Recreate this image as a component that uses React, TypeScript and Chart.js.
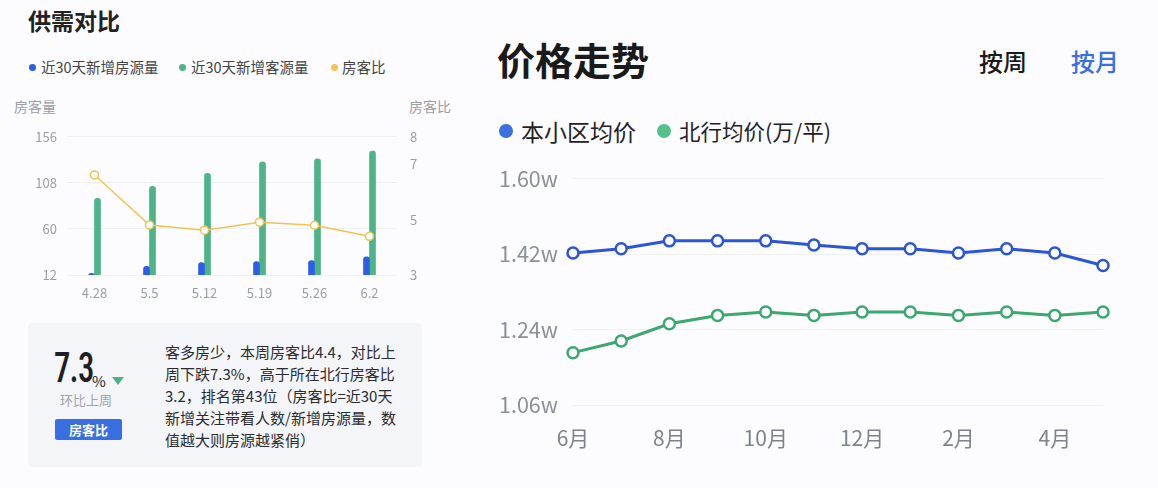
import React, { useEffect, useRef } from "react";
import { Chart, registerables } from "chart.js";

Chart.register(...registerables);

const weekLabels = ["4.28", "5.5", "5.12", "5.19", "5.26", "6.2"];
const newListings = [13.8, 21, 25, 26, 27, 31];
const newBuyers = [92, 104.5, 118, 130, 133, 141];
const ratio = [6.62, 4.81, 4.62, 4.91, 4.8, 4.4];
const leftTicks = [12, 60, 108, 156];
const rightTicks = [3, 5, 7, 8];

const monthLabels = ["6月", "7月", "8月", "9月", "10月", "11月", "12月", "1月", "2月", "3月", "4月", "5月"];
const communityPrice = [1.423, 1.433, 1.452, 1.452, 1.452, 1.442, 1.433, 1.433, 1.423, 1.433, 1.423, 1.393];
const districtPrice = [1.185, 1.213, 1.254, 1.274, 1.282, 1.274, 1.282, 1.282, 1.274, 1.282, 1.274, 1.282];
const priceTicks = [1.06, 1.24, 1.42, 1.6];

const FONT = '"Noto Sans CJK SC", "Noto Sans", sans-serif';
const BLUE = "#2f5ee6";
const GREEN = "#4db487";
const YELLOW = "#f2c350";
const LBLUE = "#2b55d5";
const LGREEN = "#3ca870";

function SupplyChart() {
  const ref = useRef<HTMLCanvasElement | null>(null);
  useEffect(() => {
    if (!ref.current) return;
    const chart = new Chart(ref.current, {
      type: "bar",
      data: {
        labels: weekLabels,
        datasets: [
          {
            type: "line",
            label: "房客比",
            data: ratio,
            yAxisID: "y1",
            borderColor: YELLOW,
            borderWidth: 1.5,
            pointRadius: 4,
            pointBackgroundColor: "#ffffff",
            pointBorderColor: YELLOW,
            pointBorderWidth: 1.5,
            tension: 0,
            order: 0,
          } as any,
          {
            label: "近30天新增房源量",
            data: newListings,
            yAxisID: "y",
            backgroundColor: BLUE,
            barThickness: 6,
            borderRadius: 3,
            borderSkipped: false,
            categoryPercentage: 0.473,
            order: 1,
          },
          {
            label: "近30天新增客源量",
            data: newBuyers,
            yAxisID: "y",
            backgroundColor: GREEN,
            barThickness: 6,
            borderRadius: 3,
            borderSkipped: false,
            categoryPercentage: 0.473,
            order: 1,
          },
        ],
      },
      options: {
        animation: false,
        responsive: false,
        maintainAspectRatio: false,
        layout: { padding: { top: 12, left: 0, right: 0, bottom: 0 } },
        plugins: { legend: { display: false }, tooltip: { enabled: false } },
        scales: {
          x: {
            grid: { display: false, drawTicks: false },
            border: { display: false },
            ticks: { color: "#9a9ea6", font: { family: FONT, size: 13 }, padding: 10 },
            afterFit: (s: any) => { s.height = 35; },
          },
          y: {
            position: "left",
            min: 12,
            max: 156,
            afterBuildTicks: (s: any) => { s.ticks = leftTicks.map((v) => ({ value: v })); },
            grid: { color: "#eef0f3", drawTicks: false },
            border: { display: false },
            ticks: { color: "#9a9ea6", font: { family: FONT, size: 13 }, padding: 10 },
            afterFit: (s: any) => { s.width = 57; },
          },
          y1: {
            position: "right",
            min: 3,
            max: 8,
            afterBuildTicks: (s: any) => { s.ticks = rightTicks.map((v) => ({ value: v })); },
            grid: { display: false, drawTicks: false },
            border: { display: false },
            ticks: { color: "#9a9ea6", font: { family: FONT, size: 13 }, padding: 13 },
            afterFit: (s: any) => { s.width = 33; },
          },
        },
      },
    });
    return () => chart.destroy();
  }, []);
  return <canvas ref={ref} width={420} height={194} style={{ position: "absolute", left: 10, top: 116, width: 420, height: 194 }} />;
}

function PriceChart() {
  const ref = useRef<HTMLCanvasElement | null>(null);
  useEffect(() => {
    if (!ref.current) return;
    const mk = (label: string, data: number[], color: string) => ({
      label,
      data,
      borderColor: color,
      borderWidth: 3,
      pointRadius: 5.5,
      pointBackgroundColor: "#ffffff",
      pointBorderColor: color,
      pointBorderWidth: 2.5,
      tension: 0,
    });
    const chart = new Chart(ref.current, {
      type: "line",
      data: {
        labels: monthLabels,
        datasets: [mk("本小区均价", communityPrice, LBLUE), mk("北行均价(万/平)", districtPrice, LGREEN)],
      },
      options: {
        animation: false,
        responsive: false,
        maintainAspectRatio: false,
        layout: { padding: { top: 9, right: 47, left: 0, bottom: 0 } },
        plugins: { legend: { display: false }, tooltip: { enabled: false } },
        scales: {
          x: {
            offset: false,
            grid: { display: false, drawTicks: false },
            border: { display: false },
            ticks: {
              autoSkip: false,
              maxRotation: 0,
              color: "#7d828c",
              font: { family: FONT, size: 21 },
              padding: 20,
              callback: (_v: any, i: number) => (i % 2 === 0 ? monthLabels[i] : ""),
            },
            afterFit: (s: any) => { s.height = 55; },
          },
          y: {
            min: 1.06,
            max: 1.6,
            afterBuildTicks: (s: any) => { s.ticks = priceTicks.map((v) => ({ value: v })); },
            grid: { color: "#f0f1f4", drawTicks: false },
            border: { display: false },
            ticks: {
              color: "#8a8f99",
              font: { family: FONT, size: 21.5 },
              padding: 15,
              callback: (v: any) => Number(v).toFixed(2) + "w",
            },
            afterFit: (s: any) => { s.width = 83; },
          },
        },
      },
    });
    return () => chart.destroy();
  }, []);
  return <canvas ref={ref} width={660} height={309} style={{ position: "absolute", left: 490, top: 151, width: 660, height: 309 }} />;
}

const abs = (o: React.CSSProperties): React.CSSProperties => ({ position: "absolute", whiteSpace: "nowrap", ...o });

function Dot({ x, y, d, color }: { x: number; y: number; d: number; color: string }) {
  return <div style={abs({ left: x - d / 2, top: y - d / 2, width: d, height: d, borderRadius: "50%", background: color })} />;
}

const paragraph = [
  "客多房少，本周房客比4.4，对比上",
  "周下跌7.3%，高于所在北行房客比",
  "3.2，排名第43位（房客比=近30天",
  "新增关注带看人数/新增房源量，数",
  "值越大则房源越紧俏）",
];

export default function App() {
  return (
    <div style={{ position: "fixed", left: 0, top: 0, width: 1158, height: 488, background: "#fcfcfe", fontFamily: FONT, overflow: "hidden" }}>
      <div style={abs({ left: 28, top: 4, fontSize: 23, fontWeight: 700, color: "#222", lineHeight: "32px" })}>供需对比</div>

      <Dot x={32} y={67} d={7} color={BLUE} />
      <div style={abs({ left: 41, top: 57, fontSize: 14.5, color: "#444", lineHeight: "20px" })}>近30天新增房源量</div>
      <Dot x={182} y={67} d={7} color={GREEN} />
      <div style={abs({ left: 191, top: 57, fontSize: 14.5, color: "#444", lineHeight: "20px" })}>近30天新增客源量</div>
      <Dot x={334} y={67} d={7} color={YELLOW} />
      <div style={abs({ left: 342, top: 57, fontSize: 14.5, color: "#444", lineHeight: "20px" })}>房客比</div>

      <div style={abs({ left: 14, top: 96, fontSize: 14, color: "#9a9ea6", lineHeight: "20px" })}>房客量</div>
      <div style={abs({ left: 409, top: 96, fontSize: 14, color: "#9a9ea6", lineHeight: "20px" })}>房客比</div>

      <SupplyChart />

      <div style={abs({ left: 28, top: 323, width: 394, height: 144, background: "#f4f5f8", borderRadius: 4 })} />
      <div style={abs({ left: 54, top: 342, fontSize: 42, fontWeight: 500, color: "#1d1f24", lineHeight: "52px", letterSpacing: -1, fontFamily: '"Roboto Condensed", "Liberation Sans Narrow", Roboto, sans-serif', transform: "scaleX(0.78)", transformOrigin: "left center" })}>7.3</div>
      <div style={abs({ left: 92, top: 372, fontSize: 15, color: "#1d1f24", lineHeight: "18px" })}>%</div>
      <div style={abs({ left: 112, top: 377, width: 0, height: 0, borderLeft: "6px solid transparent", borderRight: "6px solid transparent", borderTop: "8px solid " + GREEN })} />
      <div style={abs({ left: 60, top: 391, fontSize: 13, color: "#a0a4ab", lineHeight: "18px" })}>环比上周</div>
      <div style={abs({ left: 55, top: 419, width: 67, height: 21, background: "#3a6fe2", borderRadius: 2, color: "#fff", fontSize: 13, fontWeight: 700, lineHeight: "21px", textAlign: "center" })}>房客比</div>
      <div style={abs({ left: 165, top: 341, fontSize: 15, color: "#2a2c30", lineHeight: "22px" })}>
        {paragraph.map((l, i) => (
          <div key={i}>{l}</div>
        ))}
      </div>

      <div style={abs({ left: 497, top: 34, fontSize: 38, fontWeight: 700, color: "#1a1a1a", lineHeight: "50px" })}>价格走势</div>
      <div style={abs({ left: 979, top: 45, fontSize: 24, fontWeight: 500, color: "#1a1a1a", lineHeight: "32px" })}>按周</div>
      <div style={abs({ left: 1071, top: 45, fontSize: 24, fontWeight: 500, color: "#3a6fe2", lineHeight: "32px" })}>按月</div>

      <Dot x={506} y={131} d={14} color="#3a6fe2" />
      <div style={abs({ left: 521, top: 115, fontSize: 23, color: "#1f2126", lineHeight: "32px" })}>本小区均价</div>
      <Dot x={664} y={131} d={14} color="#55c08a" />
      <div style={abs({ left: 679, top: 116, fontSize: 21.5, color: "#1f2126", lineHeight: "30px" })}>北行均价(万/平)</div>

      <PriceChart />
    </div>
  );
}
